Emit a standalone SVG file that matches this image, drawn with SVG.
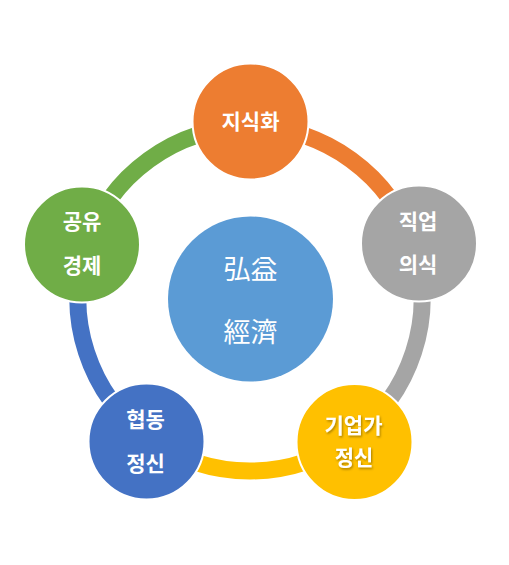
<svg xmlns="http://www.w3.org/2000/svg" width="509" height="565" viewBox="0 0 509 565">
<defs>
<style>
.arc{fill:none;stroke-width:17}
.node{stroke:#fff;stroke-width:2}
.lbl{font-family:"Noto Sans CJK KR","Noto Sans",sans-serif;font-weight:bold;font-size:21px;fill:#fff;text-anchor:middle;dominant-baseline:central}
.ctr{font-family:"Noto Sans CJK KR","Noto Sans CJK TC",sans-serif;font-weight:normal;font-size:27px;fill:#fff;text-anchor:middle;dominant-baseline:central}
</style>
<filter id="sh" x="-20%" y="-20%" width="140%" height="140%">
<feDropShadow dx="1" dy="1.5" stdDeviation="0.8" flood-color="#000" flood-opacity="0.35"/>
</filter>
</defs>
<rect width="509" height="565" fill="#fff"/>
<g id="connectors">
<path class="arc" stroke="#ED7D31" d="M 250 127 A 172 172 0 0 1 413.6 245.9"/>
<path class="arc" stroke="#A5A5A5" d="M 413.6 245.9 A 172 172 0 0 1 351.1 438.1"/>
<path class="arc" stroke="#FFC000" d="M 351.1 438.1 A 172 172 0 0 1 148.9 438.1"/>
<path class="arc" stroke="#4472C4" d="M 148.9 438.1 A 172 172 0 0 1 86.4 245.9"/>
<path class="arc" stroke="#70AD47" d="M 86.4 245.9 A 172 172 0 0 1 250 127"/>
</g>
<g id="center">
<circle cx="250.5" cy="299" r="82.5" fill="#5B9BD5"/>
<text class="ctr" x="250.5" y="267">弘益</text>
<text class="ctr" x="250.5" y="330">經濟</text>
</g>
<g id="node-top">
<circle class="node" cx="250.5" cy="121.5" r="58" fill="#ED7D31"/>
<text class="lbl" x="250.5" y="120">지식화</text>
</g>
<g id="node-right">
<circle class="node" cx="419" cy="243.5" r="58" fill="#A5A5A5"/>
<text class="lbl" x="418" y="220">직업</text>
<text class="lbl" x="418" y="263">의식</text>
</g>
<g id="node-bottom-right">
<circle class="node" cx="354.5" cy="442" r="58" fill="#FFC000"/>
<text class="lbl" x="353.5" y="424" filter="url(#sh)">기업가</text>
<text class="lbl" x="354" y="456" filter="url(#sh)">정신</text>
</g>
<g id="node-bottom-left">
<circle class="node" cx="146.5" cy="441.5" r="58" fill="#4472C4"/>
<text class="lbl" x="145.5" y="418">협동</text>
<text class="lbl" x="145.5" y="462">정신</text>
</g>
<g id="node-left">
<circle class="node" cx="82" cy="244.5" r="58" fill="#70AD47"/>
<text class="lbl" x="82" y="220">공유</text>
<text class="lbl" x="82" y="264">경제</text>
</g>
</svg>
